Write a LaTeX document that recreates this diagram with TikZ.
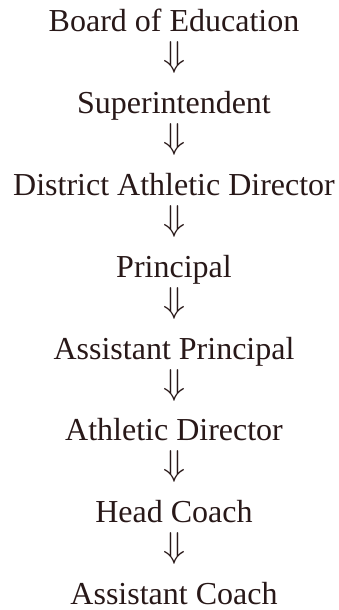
\RequirePackage{fix-cm}
\documentclass[tikz,border=0pt]{standalone}
\usepackage{fontspec}
\setmainfont{Liberation Serif}
\usetikzlibrary{positioning}
\definecolor{ink}{RGB}{40,24,24}

\begin{document}
\begin{tikzpicture}[x=1pt,y=1pt,node distance=81.8pt,on grid,
  post/.style={font=\fontsize{32}{38}\selectfont,text=ink,inner sep=0pt,
    text height=22pt,text depth=7pt},
  down/.style={font=\fontsize{36}{40}\selectfont,text=ink,inner sep=0pt,yshift=7.4pt}]
   \useasboundingbox (0,0) rectangle (338,610);
   \node[post] (board) at (174,585.5) {Board of Education};
   \node[post] (super) [below=of board] {Superintendent};
   \node[post] (dad) [below=of super] {District Athletic Director};
   \node[post] (prin) [below=of dad] {Principal};
   \node[post] (aprin) [below=of prin] {Assistant Principal};
   \node[post] (ad) [below=of aprin] {Athletic Director};
   \node[post] (head) [below=of ad] {Head Coach};
   \node[post] (acoach) [below=of head] {Assistant Coach};

   \path (board) -- node[down] {$\Downarrow$} (super);
   \path (super) -- node[down] {$\Downarrow$} (dad);
   \path (dad) -- node[down] {$\Downarrow$} (prin);
   \path (prin) -- node[down] {$\Downarrow$} (aprin);
   \path (aprin) -- node[down] {$\Downarrow$} (ad);
   \path (ad) -- node[down] {$\Downarrow$} (head);
   \path (head) -- node[down] {$\Downarrow$} (acoach);
\end{tikzpicture}
\end{document}
